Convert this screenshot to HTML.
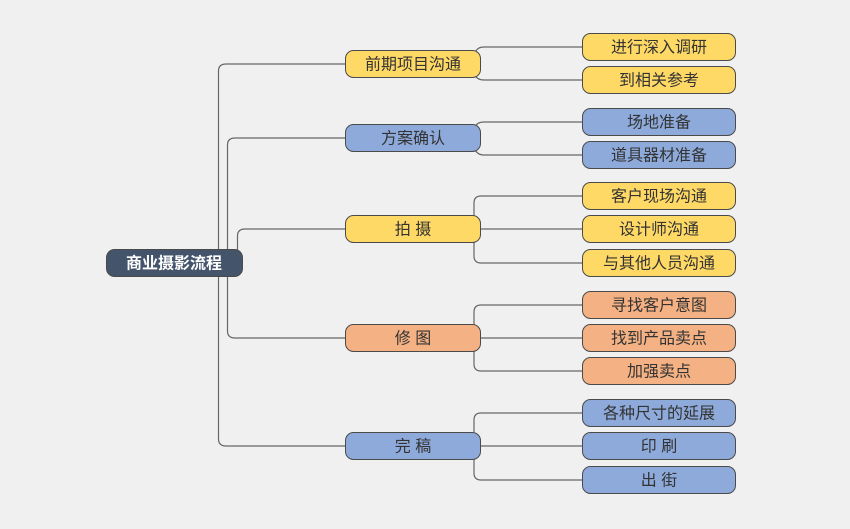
<!DOCTYPE html>
<html><head><meta charset="utf-8"><style>
html,body{margin:0;padding:0;background:#f0f0f0;}
svg{display:block;}
text{font-family:"Liberation Sans","Noto Sans CJK SC",sans-serif;font-size:16px;fill:#333;text-anchor:middle;dominant-baseline:central;}
</style></head><body>
<svg width="850" height="529" viewBox="0 0 850 529">
<g fill="none" stroke="#666" stroke-width="1.2">
<path d="M218.5 276 V71 Q218.5 64 226 64 H346"/>
<path d="M218.5 276 V439 Q218.5 446 226 446 H346"/>
<path d="M227.5 276 V145 Q227.5 138 235 138 H346"/>
<path d="M227.5 276 V331 Q227.5 338 235 338 H346"/>
<path d="M237.5 250 V236 Q237.5 229 245 229 H346"/>
<path d="M475 53 Q477 47 484 47 H583"/>
<path d="M475 75 Q477 80 484 80 H583"/>
<path d="M475 127 Q477 122 484 122 H583"/>
<path d="M475 149 Q477 155 484 155 H583"/>
<path d="M474 216 V203 Q474 196 481 196 H583"/>
<path d="M474 242 V256 Q474 263 481 263 H583"/>
<path d="M481 229 H583"/>
<path d="M474 325 V312 Q474 305 481 305 H583"/>
<path d="M474 351 V364 Q474 371 481 371 H583"/>
<path d="M481 338 H583"/>
<path d="M474 432 V420 Q474 413 481 413 H583"/>
<path d="M474 459 V473 Q474 480 481 480 H583"/>
<path d="M481 446 H583"/>
</g>
<g stroke="#4a4a4a" stroke-width="1">
<rect x="106.5" y="249.5" width="136" height="27" rx="8" fill="#44546a"/>
<rect x="345.5" y="50.5" width="135" height="27" rx="8" fill="#ffd966"/>
<rect x="345.5" y="124.5" width="135" height="27" rx="8" fill="#8eaadb"/>
<rect x="345.5" y="215.5" width="135" height="27" rx="8" fill="#ffd966"/>
<rect x="345.5" y="324.5" width="135" height="27" rx="8" fill="#f4b183"/>
<rect x="345.5" y="432.5" width="135" height="27" rx="8" fill="#8eaadb"/>
<rect x="582.5" y="33.5" width="153" height="27" rx="8" fill="#ffd966"/>
<rect x="582.5" y="66.5" width="153" height="27" rx="8" fill="#ffd966"/>
<rect x="582.5" y="108.5" width="153" height="27" rx="8" fill="#8eaadb"/>
<rect x="582.5" y="141.5" width="153" height="27" rx="8" fill="#8eaadb"/>
<rect x="582.5" y="182.5" width="153" height="27" rx="8" fill="#ffd966"/>
<rect x="582.5" y="215.5" width="153" height="27" rx="8" fill="#ffd966"/>
<rect x="582.5" y="249.5" width="153" height="27" rx="8" fill="#ffd966"/>
<rect x="582.5" y="291.5" width="153" height="27" rx="8" fill="#f4b183"/>
<rect x="582.5" y="324.5" width="153" height="27" rx="8" fill="#f4b183"/>
<rect x="582.5" y="357.5" width="153" height="27" rx="8" fill="#f4b183"/>
<rect x="582.5" y="399.5" width="153" height="27" rx="8" fill="#8eaadb"/>
<rect x="582.5" y="432.5" width="153" height="27" rx="8" fill="#8eaadb"/>
<rect x="582.5" y="466.5" width="153" height="27" rx="8" fill="#8eaadb"/>
</g>
<text x="174" y="264" style="fill:#fff;font-weight:bold">商业摄影流程</text>
<text x="413" y="65">前期项目沟通</text>
<text x="413" y="139">方案确认</text>
<text x="413" y="230">拍 摄</text>
<text x="413" y="339">修 图</text>
<text x="413" y="447">完 稿</text>
<text x="659" y="48">进行深入调研</text>
<text x="659" y="81">到相关参考</text>
<text x="659" y="123">场地准备</text>
<text x="659" y="156">道具器材准备</text>
<text x="659" y="197">客户现场沟通</text>
<text x="659" y="230">设计师沟通</text>
<text x="659" y="264">与其他人员沟通</text>
<text x="659" y="306">寻找客户意图</text>
<text x="659" y="339">找到产品卖点</text>
<text x="659" y="372">加强卖点</text>
<text x="659" y="414">各种尺寸的延展</text>
<text x="659" y="447">印 刷</text>
<text x="659" y="481">出 街</text>
</svg>
</body></html>
